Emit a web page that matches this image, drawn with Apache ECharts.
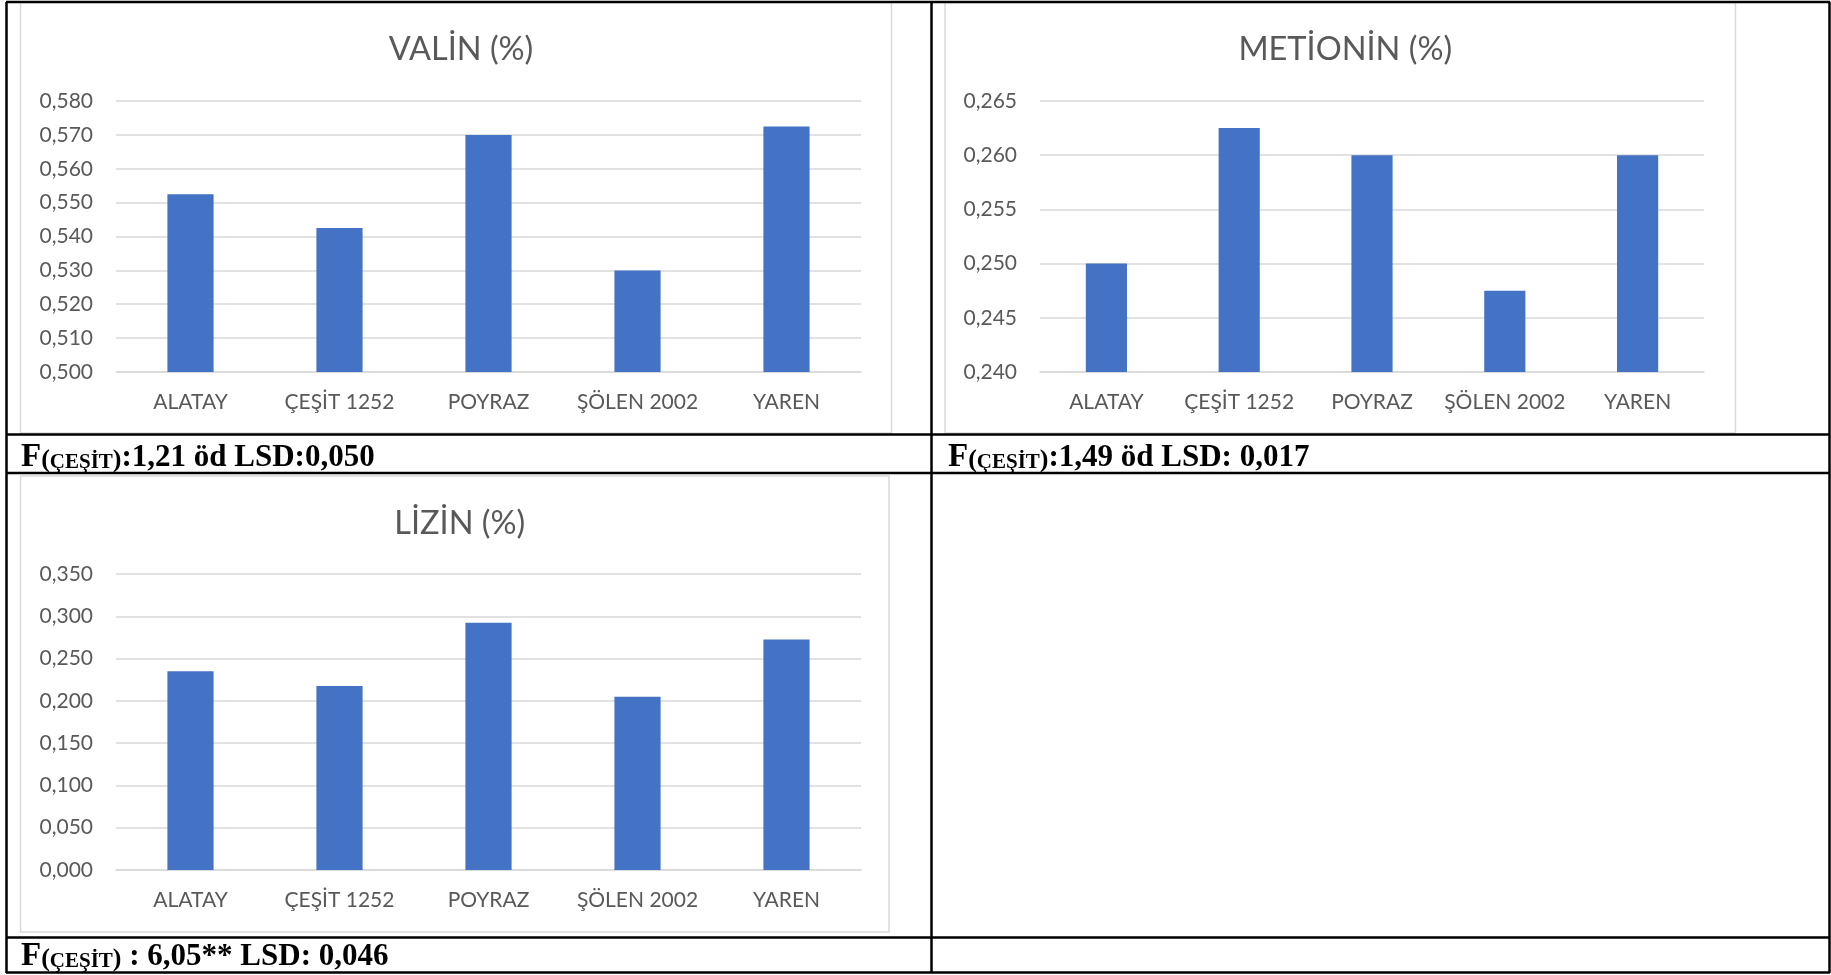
<!DOCTYPE html>
<html>
<head>
<meta charset="utf-8">
<script src="https://cdn.jsdelivr.net/npm/echarts@6/dist/echarts.min.js"></script>
<style>
  html, body { margin: 0; padding: 0; background: #fff; }
  #chart { width: 1831px; height: 975px; }
</style>
</head>
<body>
<div id="chart"></div>
<script>
const categories = ["ALATAY", "ÇEŞİT 1252", "POYRAZ", "ŞÖLEN 2002", "YAREN"];
const valin = [0.5525, 0.5425, 0.570, 0.530, 0.5725];
const metionin = [0.250, 0.2625, 0.260, 0.2475, 0.260];
const lizin = [0.235, 0.2175, 0.2925, 0.205, 0.2725];
const titles = ["VALİN (%)", "METİONİN (%)", "LİZİN (%)"];
// caption pieces: F, subscript word, rest
const captions = [
  ["F", "ÇEŞİT", ":1,21 öd LSD:0,050"],
  ["F", "ÇEŞİT", ":1,49 öd LSD: 0,017"],
  ["F", "ÇEŞİT", " : 6,05** LSD: 0,046"]
];

const font = "Lato";
const grey = "#595959";
const fmt = v => v.toFixed(3).replace(".", ",");

// panel layout (px): plot area, chart frame, caption spot
const panels = [
  { grid: { left: 116, top: 101, width: 745, height: 271 }, frame: [20.5, 2.5, 871, 430.5], axis: [0.5, 0.58, 0.01], cap: [21, 473.5] },
  { grid: { left: 1040, top: 101, width: 664, height: 271 }, frame: [945, 2.5, 790.5, 430.5], axis: [0.24, 0.265, 0.005], cap: [948, 473.5] },
  { grid: { left: 116, top: 574, width: 745, height: 296 }, frame: [20.5, 476, 868.5, 456], axis: [0, 0.35, 0.05], cap: [21, 972.5] }
];
const data = [valin, metionin, lizin];

let chart = echarts.init(document.getElementById("chart"));

let graphic = [];
// grey chart frames
panels.forEach(p => {
  let [x, y, w, h] = p.frame;
  graphic.push({ type: "rect", shape: { x, y, width: w, height: h }, style: { fill: null, stroke: "#d9d9d9", lineWidth: 1.5 }, z: 1 });
});
// table rules
const lines = [
  [6, 2, 1830, 2], [6, 972.5, 1830, 972.5], [6.5, 2, 6.5, 973], [1829.5, 2, 1829.5, 973],
  [931.5, 2, 931.5, 973], [6, 434.5, 1830, 434.5], [6, 473, 1830, 473], [6, 937.5, 1830, 937.5]
];
lines.forEach(([x1, y1, x2, y2]) => {
  graphic.push({ type: "line", shape: { x1, y1, x2, y2 }, style: { stroke: "#000", lineWidth: 2.5 }, z: 5 });
});
// captions under each chart
const serif = { fontFamily: "Liberation Serif", fontWeight: "bold", fill: "#000", verticalAlign: "bottom" };
panels.forEach((p, i) => {
  let [a, b, c] = captions[i];
  graphic.push({
    type: "text", x: p.cap[0], y: p.cap[1], z: 6,
    style: {
      text: "{f|" + a + "}{p|(}{s|" + b + "}{p|)}{m|" + c + "}",
      verticalAlign: "bottom",
      rich: {
        f: Object.assign({ fontSize: 33, lineHeight: 33 }, serif),
        p: Object.assign({ fontSize: 26, lineHeight: 23.6 }, serif),
        s: Object.assign({ fontSize: 21, lineHeight: 20.6 }, serif),
        m: Object.assign({ fontSize: 31, lineHeight: 31 }, serif)
      }
    }
  });
});

let option = {
  backgroundColor: "#fff",
  animation: false,
  title: panels.map((p, i) => ({
    text: titles[i],
    left: p.frame[0] + p.frame[2] / 2,
    top: p.frame[1] + 26,
    textAlign: "center",
    textStyle: { fontFamily: font, fontSize: 32.5, fontWeight: "normal", color: grey }
  })),
  grid: panels.map(p => p.grid),
  xAxis: panels.map((p, i) => ({
    type: "category",
    gridIndex: i,
    data: categories,
    axisTick: { show: false },
    axisLine: { lineStyle: { color: "#d9d9d9", width: 1.5 } },
    axisLabel: { interval: 0, fontFamily: font, fontSize: 21, color: grey, margin: 20 }
  })),
  yAxis: panels.map((p, i) => ({
    type: "value",
    gridIndex: i,
    min: p.axis[0],
    max: p.axis[1],
    interval: p.axis[2],
    axisLine: { show: false },
    axisTick: { show: false },
    splitLine: { lineStyle: { color: "#d9d9d9", width: 1.5 } },
    axisLabel: { fontFamily: font, fontSize: 21, color: grey, margin: 23, formatter: fmt }
  })),
  series: data.map((d, i) => ({
    type: "bar",
    xAxisIndex: i,
    yAxisIndex: i,
    data: d,
    barCategoryGap: "69%",
    itemStyle: { color: "#4472C4" }
  })),
  graphic
};

chart.setOption(option);
</script>
</body>
</html>
